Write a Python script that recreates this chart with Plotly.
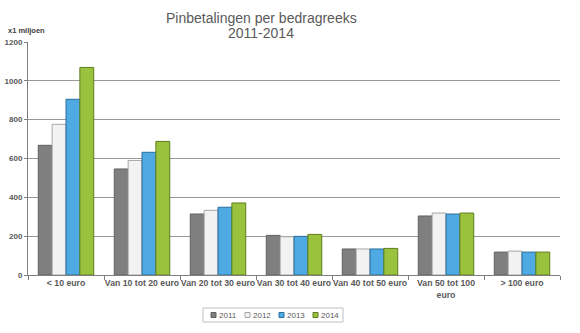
import plotly.graph_objects as go

categories = ["< 10 euro", "Van 10 tot 20 euro", "Van 20 tot 30 euro", "Van 30 tot 40 euro",
              "Van 40 tot 50 euro", "Van 50 tot 100<br>euro", "> 100 euro"]
years = ["2011", "2012", "2013", "2014"]
v2011 = [668, 546, 314, 204, 134, 304, 118]
v2012 = [776, 590, 333, 197, 134, 319, 123]
v2013 = [905, 632, 349, 199, 134, 314, 118]
v2014 = [1069, 688, 371, 209, 137, 319, 118]
yticks = [0, 200, 400, 600, 800, 1000, 1200]

fills = ["#7f7f7f", "#f2f2f2", "#4fa9e2", "#9bc23c"]
lines = ["#606060", "#a6a6a6", "#2a6f9c", "#5f7d1e"]

W, H = 580, 333
L, R, T, B = 28, 20, 42, 58

fig = go.Figure()
for name, vals, fc, lc in zip(years, [v2011, v2012, v2013, v2014], fills, lines):
    fig.add_trace(go.Bar(name=name, x=categories, y=vals,
                         marker=dict(color=fc, line=dict(color=lc, width=1))))

def px_x(p):
    return (p - L) / (W - L - R)

def px_y(p):
    return (H - B - p) / (H - T - B)

annotations = [
    dict(text="Pinbetalingen per bedragreeks", xref="paper", yref="paper",
         x=px_x(261), y=px_y(18), xanchor="center", yanchor="middle", showarrow=False,
         font=dict(size=14, color="#595959")),
    dict(text="2011-2014", xref="paper", yref="paper",
         x=px_x(261), y=px_y(33), xanchor="center", yanchor="middle", showarrow=False,
         font=dict(size=14, color="#595959")),
    dict(text="<b>x1 miljoen</b>", xref="paper", yref="paper", x=px_x(6), y=px_y(30),
         xanchor="left", yanchor="middle", showarrow=False,
         font=dict(size=7.5, color="#404040")),
]

shapes = [dict(type="rect", xref="paper", yref="paper", x0=px_x(203), x1=px_x(343),
               y0=px_y(308), y1=px_y(322), line=dict(color="#bfbfbf", width=1),
               fillcolor="white", layer="above")]
leg_x = [211, 245, 279, 313]
for lx, name, fc, lc in zip(leg_x, years, fills, lines):
    shapes.append(dict(type="rect", xref="paper", yref="paper", x0=px_x(lx), x1=px_x(lx + 5),
                       y0=px_y(312.5), y1=px_y(317.5), fillcolor=fc,
                       line=dict(color=lc, width=1), layer="above"))
    annotations.append(dict(text=name, xref="paper", yref="paper", x=px_x(lx + 6),
                            y=px_y(315), xanchor="left", yanchor="middle", showarrow=False,
                            font=dict(size=8, color="#595959")))

fig.update_layout(
    width=W, height=H,
    margin=dict(l=L, r=R, t=T, b=B, autoexpand=False),
    paper_bgcolor="white", plot_bgcolor="white",
    barmode="group", bargap=0.27, bargroupgap=0,
    font=dict(family="Liberation Sans, Arial, sans-serif", color="#595959"),
    showlegend=False,
    annotations=annotations,
    shapes=shapes,
)
fig.update_xaxes(showline=True, linecolor="#808080", linewidth=1, ticks="outside",
                 tickson="boundaries", ticklen=4, tickcolor="#808080",
                 tickfont=dict(size=8.7, color="#595959"), tickangle=0, automargin=False,
                 ticktext=["<b>%s</b>" % c for c in categories], tickvals=categories)
fig.update_yaxes(range=[0, 1200], tickvals=yticks, ticktext=["<b>%d</b>" % t for t in yticks],
                 showgrid=True, gridcolor="#999999", gridwidth=1, automargin=False,
                 showline=True, linecolor="#808080", linewidth=1, ticks="outside", ticklen=3,
                 tickcolor="#808080", zeroline=False,
                 tickfont=dict(size=8, color="#595959"))

fig.write_html("out.html")
